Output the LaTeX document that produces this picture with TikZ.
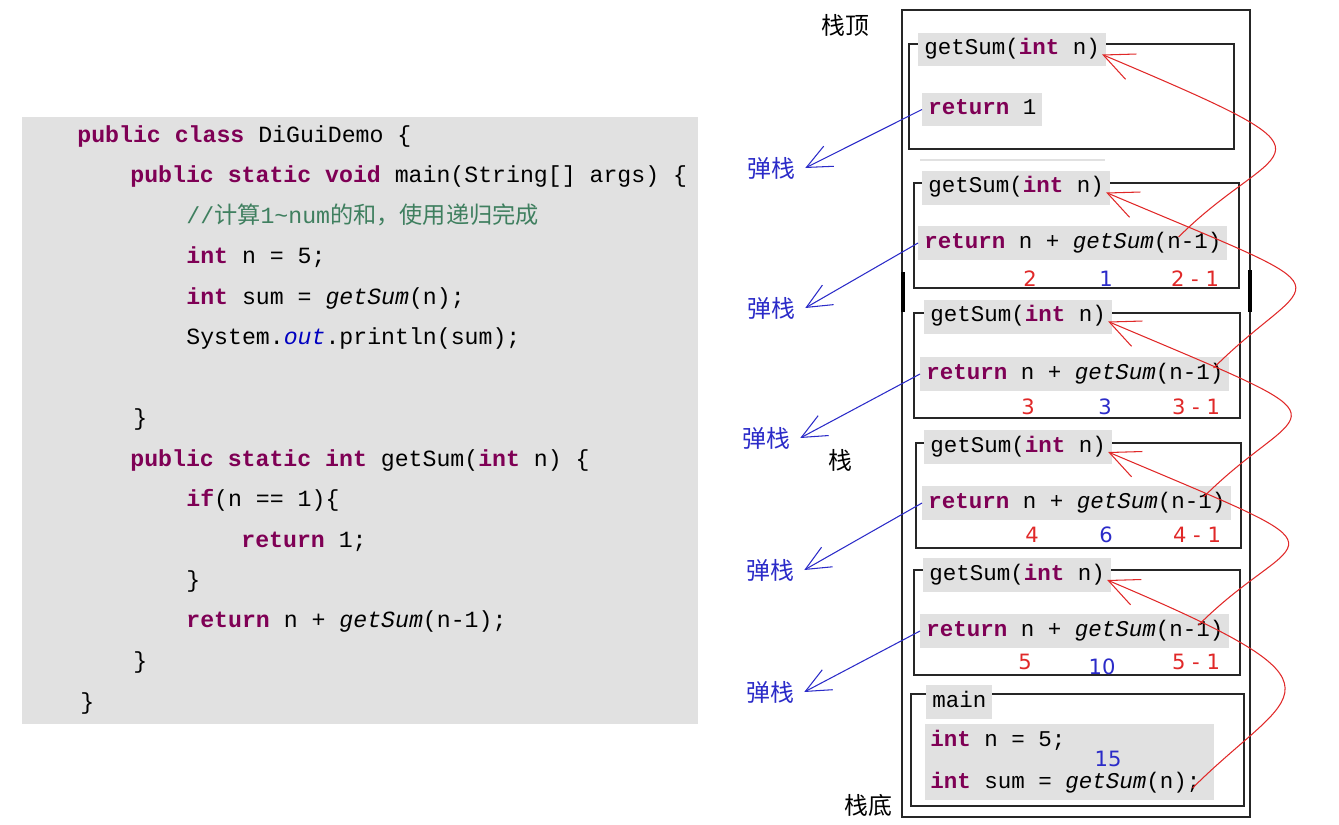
\documentclass[tikz,border=0pt]{standalone}
\usepackage{fontspec}
\setmainfont{Liberation Sans}
\setmonofont{Liberation Mono}
\newfontfamily\cjk{Noto Sans CJK SC}
\newfontfamily\numfont{DejaVu Sans}
\usetikzlibrary{arrows.meta}

\definecolor{kwpurple}{HTML}{7F0055}
\definecolor{cmtgreen}{HTML}{3F7F5F}
\definecolor{fieldblue}{HTML}{0000C0}
\definecolor{panelgray}{HTML}{E1E1E1}
\definecolor{popblue}{HTML}{2B2BC8}
\definecolor{callred}{HTML}{E02828}

\newcommand{\kw}[1]{\textcolor{kwpurple}{\bfseries #1}}
\newcommand{\mcall}[1]{\textit{#1}}

\begin{document}
\begin{tikzpicture}[x=0.02cm, y=-0.02cm,
  code/.style = {anchor=west, inner sep=0pt, font=\ttfamily\fontsize{13.2}{15}\selectfont, text height=0.3cm, text depth=0.09cm},
  stackcode/.style = {anchor=west, inner xsep=0.12cm, inner ysep=0pt, font=\ttfamily\fontsize{12.8}{15}\selectfont, text height=0.3cm, text depth=0.09cm},
  graybox/.style = {fill=panelgray, minimum height=0.68cm},
  frame/.style = {draw=black!85, line width=0.8pt},
  tag/.style = {font=\cjk\fontsize{13.6}{16}\selectfont},
  pop/.style = {tag, text=popblue, inner xsep=0.2cm},
  argred/.style = {text=callred, font=\numfont\fontsize{12}{14}\selectfont},
  sumblue/.style = {text=popblue, font=\numfont\fontsize{12}{14}\selectfont},
  poparrow/.style = {draw=popblue, line width=0.6pt, -{Straight Barb[length=0.5cm, width=0.45cm]}},
  callarrow/.style = {draw=callred, line width=0.6pt, -{Straight Barb[length=0.6cm, width=0.55cm]}}]

\useasboundingbox (0,0) rectangle (1339,825);

% source code panel
\fill[panelgray] (22,117) rectangle (698,724);
\node[code] (l1) at (77,137) {\kw{public} \kw{class} DiGuiDemo \{};
\node[code] (l2) at (130,177) {\kw{public} \kw{static} \kw{void} main(String[] args) \{};
\node[code, text=cmtgreen] (l3) at (186,218) {//{\cjk 计算}1\textasciitilde num{\cjk 的和，使用递归完成}};
\node[code] (l4) at (186,258) {\kw{int} n = 5;};
\node[code] (l5) at (186,299) {\kw{int} sum = \mcall{getSum}(n);};
\node[code] (l6) at (186,339) {System.\textcolor{fieldblue}{\itshape out}.println(sum);};
\node[code] (l7) at (133,420) {\}};
\node[code] (l8) at (130,461) {\kw{public} \kw{static} \kw{int} getSum(\kw{int} n) \{};
\node[code] (l9) at (186,501) {\kw{if}(n == 1)\{};
\node[code] (l10) at (241,542) {\kw{return} 1;};
\node[code] (l11) at (186,582) {\}};
\node[code] (l12) at (186,622) {\kw{return} n + \mcall{getSum}(n-1);};
\node[code] (l13) at (133,663) {\}};
\node[code] (l14) at (80,704) {\}};

% stack
\draw[frame] (902,10) rectangle (1250,817);
\draw[line width=1.8pt] (903,272) -- (903,312);
\draw[line width=1.8pt] (1250,270) -- (1250,312);
\node[tag] (top) at (845,25) {栈顶};
\node[tag] (middle) at (840,460) {栈};
\node[tag] (bottom) at (868,805) {栈底};

% frame n=1
\draw[frame] (909,44) rectangle (1234,149);
\node[stackcode, graybox] (h1) at (918,49.5) {getSum(\kw{int} n)};
\node[stackcode, graybox] (r1) at (922,109.5) {\kw{return} 1};
\draw[panelgray, line width=1.6pt] (920,160) -- (1105,160);

% frame n=2
\draw[frame] (914,183) rectangle (1239,288);
\node[stackcode, graybox] (h2) at (922,187.5) {getSum(\kw{int} n)};
\node[stackcode, graybox] (r2) at (918,243) {\kw{return} n + \mcall{getSum}(n-1)};
\node[argred] (a2) at (1030,279) {2};
\node[sumblue] (s2) at (1106,279) {1};
\node[argred] (d2) at (1195,279) {2 - 1};

% frame n=3
\draw[frame] (914,313) rectangle (1240,418);
\node[stackcode, graybox] (h3) at (924,316.5) {getSum(\kw{int} n)};
\node[stackcode, graybox] (r3) at (920,374) {\kw{return} n + \mcall{getSum}(n-1)};
\node[argred] (a3) at (1028,407) {3};
\node[sumblue] (s3) at (1105,407) {3};
\node[argred] (d3) at (1196,407) {3 - 1};

% frame n=4
\draw[frame] (916,443) rectangle (1241,548);
\node[stackcode, graybox] (h4) at (924,447) {getSum(\kw{int} n)};
\node[stackcode, graybox] (r4) at (922,503) {\kw{return} n + \mcall{getSum}(n-1)};
\node[argred] (a4) at (1032,535) {4};
\node[sumblue] (s4) at (1106,535) {6};
\node[argred] (d4) at (1197,535) {4 - 1};

% frame n=5
\draw[frame] (914,570) rectangle (1240,675);
\node[stackcode, graybox] (h5) at (923,575) {getSum(\kw{int} n)};
\node[stackcode, graybox] (r5) at (920,631) {\kw{return} n + \mcall{getSum}(n-1)};
\node[argred] (a5) at (1025,662) {5};
\node[sumblue] (s5) at (1102,667) {10};
\node[argred] (d5) at (1196,662) {5 - 1};

% main
\draw[frame] (911,694) rectangle (1244,806);
\node[stackcode, graybox] (mh) at (926,702) {main};
\fill[panelgray] (925,724) rectangle (1214,800);
\node[stackcode] (m1) at (924,741) {\kw{int} n = 5;};
\node[stackcode] (m2) at (924,783) {\kw{int} sum = \mcall{getSum}(n);};
\node[sumblue] (s6) at (1108,759) {15};

% popping
\node[pop] (p1) at (771,168) {弹栈};
\node[pop] (p2) at (771,308) {弹栈};
\node[pop] (p3) at (766,438) {弹栈};
\node[pop] (p4) at (770,570) {弹栈};
\node[pop] (p5) at (770,692) {弹栈};
\draw[poparrow] (r1.west) -- (p1.east);
\draw[poparrow] (r2.west) -- (p2.east);
\draw[poparrow] (r3.west) -- (p3.east);
\draw[poparrow] (r4.west) -- (p4.east);
\draw[poparrow] (r5.west) -- (p5.east);

% recursive calls
\draw[callarrow] ([shift={(-49,-6)}]r2.east) .. controls +(100,-100) and +(260,110) .. ([shift={(-4,5)}]h1.east);
\draw[callarrow] ([shift={(-16,-6)}]r3.east) .. controls +(100,-100) and +(260,110) .. ([shift={(-4,5)}]h2.east);
\draw[callarrow] ([shift={(-28,-6)}]r4.east) .. controls +(100,-100) and +(260,110) .. ([shift={(-4,5)}]h3.east);
\draw[callarrow] ([shift={(-31,-6)}]r5.east) .. controls +(100,-100) and +(260,110) .. ([shift={(-4,5)}]h4.east);
\draw[callarrow] ([shift={(-14,5)}]m2.east) .. controls +(100,-100) and +(260,110) .. ([shift={(-4,5)}]h5.east);
\end{tikzpicture}
\end{document}
